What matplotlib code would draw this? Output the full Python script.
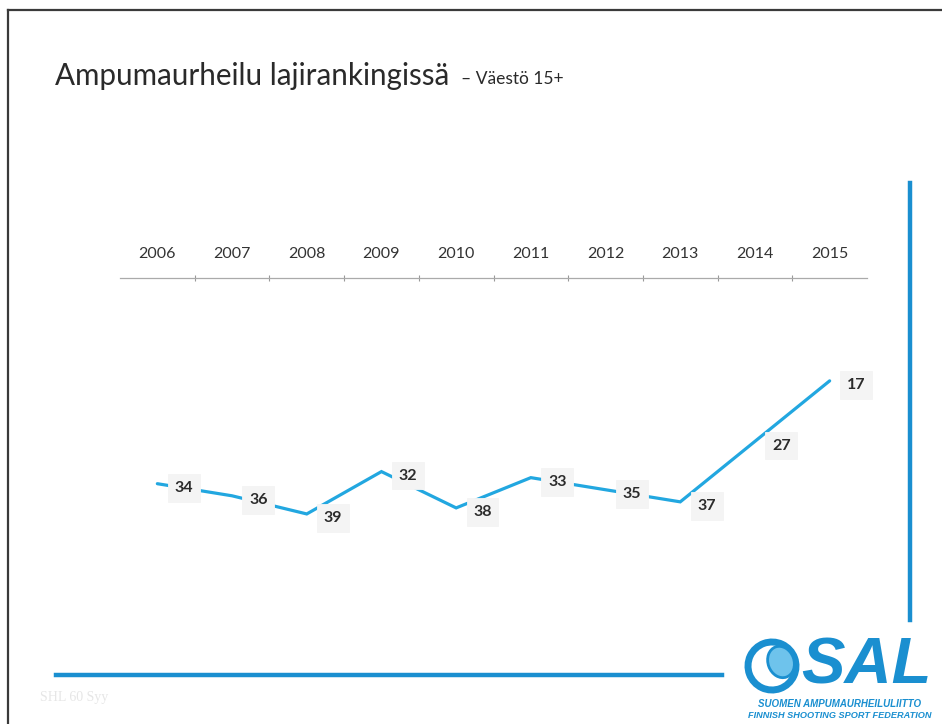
import matplotlib
matplotlib.use("Agg")
import matplotlib.pyplot as plt
from matplotlib.patches import Ellipse
from matplotlib.lines import Line2D

years = ["2006", "2007", "2008", "2009", "2010", "2011", "2012", "2013", "2014", "2015"]
ranks = [34, 36, 39, 32, 38, 33, 35, 37, 27, 17]

title_main = "Ampumaurheilu lajirankingissä"
title_sub = "– Väestö 15+"
org_fi = "SUOMEN AMPUMAURHEILULIITTO"
org_en = "FINNISH SHOOTING SPORT FEDERATION"

W, H = 942, 724
fig = plt.figure(figsize=(W / 100, H / 100), dpi=100)
fig.patch.set_facecolor("white")

def fx(px):
    return px / W

def fy(py):
    return 1 - py / H

# Slide frame (scan edges)
fig.add_artist(Line2D([fx(8), fx(942)], [fy(10), fy(10)], color="#3a3a3a", lw=1.6))
fig.add_artist(Line2D([fx(8), fx(8)], [fy(10), fy(724)], color="#3a3a3a", lw=1.6))

# Blue decorative lines
fig.add_artist(Line2D([fx(910), fx(910)], [fy(183), fy(620)], color="#1a8fd0", lw=3.2))
fig.add_artist(Line2D([fx(56), fx(722)], [fy(675), fy(675)], color="#1a8fd0", lw=3.2))

# Title
fig.text(fx(55), fy(76), title_main, fontsize=21.3, family="Lato", color="#2a2a2a", va="center", ha="left")
fig.text(fx(461), fy(79), title_sub, fontsize=12.5, family="Lato", color="#2a2a2a", va="center", ha="left")

# Chart axes: x axis on top, rank axis inverted
ax = fig.add_axes([fx(120), fy(641), fx(867) - fx(120), fy(278) - fy(641)])
x = list(range(len(years)))
ax.plot(x, ranks, color="#22a7e0", lw=2.3, solid_capstyle="round", solid_joinstyle="miter", zorder=2)
ax.set_xlim(-0.5, len(years) - 0.5)
ax.set_ylim(60, 0)
ax.xaxis.tick_top()
ax.set_xticks(x)
ax.set_xticklabels(years, fontsize=11.5, family="Lato", color="#333333")
ax.set_xticks([i + 0.5 for i in range(len(years) - 1)], minor=True)
ax.tick_params(axis="x", which="major", length=0, pad=12)
ax.tick_params(axis="x", which="minor", length=4, direction="inout", color="#999999", width=0.8)
ax.set_yticks([])
for s in ["left", "right", "bottom"]:
    ax.spines[s].set_visible(False)
ax.spines["top"].set_color("#aaaaaa")
ax.spines["top"].set_linewidth(0.9)
ax.patch.set_alpha(0)

for xi, r in zip(x, ranks):
    ax.annotate(str(r), (xi, r), xytext=(19, -3), textcoords="offset points",
                ha="center", va="center", fontsize=11.5, fontweight="bold", family="Lato",
                color="#2b2b2b", zorder=3,
                bbox=dict(boxstyle="square,pad=0.42", fc="#f4f4f4", ec="#f4f4f4", lw=0.6))

# Faint footer text
fig.text(fx(40), fy(698), "SHL 60 Syy", fontsize=10, family="Liberation Serif", color="#e6e6e6", va="center")

# SAL logo (approximation)
logo = fig.add_axes([fx(735), fy(724), fx(942) - fx(735), fy(630) - fy(724)])
logo.set_xlim(735, 942)
logo.set_ylim(724, 630)
logo.axis("off")
logo.add_patch(Ellipse((772, 666), 48, 48, angle=-20, fill=False, ec="#1a8fd0", lw=5))
logo.add_patch(Ellipse((781, 662), 26, 32, angle=-20, fc="#6ec3ec", ec="#1a8fd0", lw=2))
logo.text(866, 667, "SAL", fontsize=47, fontweight="bold", fontstyle="italic",
          family="Liberation Sans", color="#1a8fd0", ha="center", va="center")
logo.text(840, 704, org_fi, fontsize=7, fontweight="bold", fontstyle="italic",
          family="Liberation Sans", color="#1a8fd0", ha="center", va="center")
logo.text(840, 715, org_en, fontsize=6.6, fontweight="bold", fontstyle="italic",
          family="Liberation Sans", color="#1a8fd0", ha="center", va="center")

fig.savefig("out.png", dpi=100, facecolor="white")
